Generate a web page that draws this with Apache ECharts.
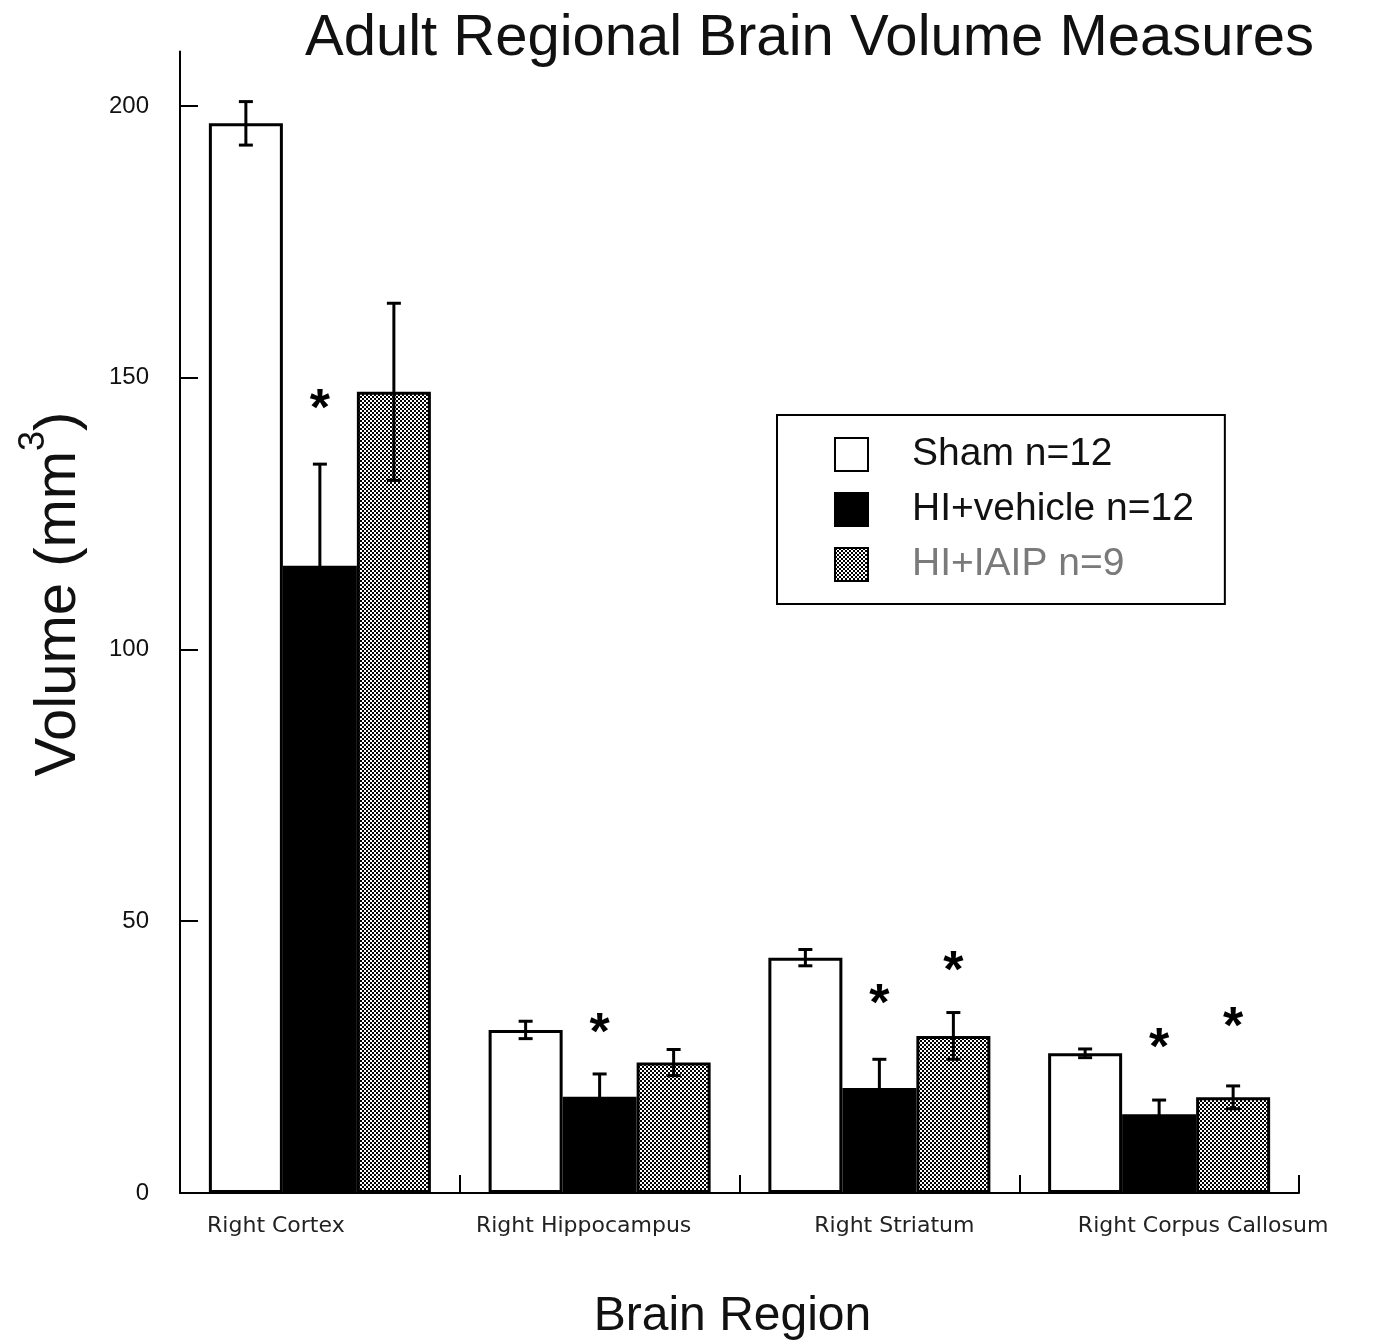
<!DOCTYPE html>
<html>
<head>
<meta charset="utf-8">
<script src="https://cdn.jsdelivr.net/npm/echarts@6/dist/echarts.min.js"></script>
<style>
html,body{margin:0;padding:0;background:#fff;}
#chart{width:1374px;height:1344px;}
</style>
</head>
<body>
<div id="chart"></div>
<script>
// ---------- data ----------
const categories = ['Right Cortex', 'Right Hippocampus', 'Right Striatum', 'Right Corpus Callosum'];
const seriesNames = ['Sham n=12', 'HI+vehicle n=12', 'HI+IAIP n=9'];
const shamMean = [196.8, 30.0, 43.3, 25.7];
const shamErr  = [4.0, 1.6, 1.5, 0.8];
const vehMean  = [115.4, 17.7, 19.3, 14.5];
const vehErr   = [18.7, 4.2, 5.3, 2.6];
const iaipMean = [147.4, 24.0, 28.9, 17.6];
const iaipErr  = [16.3, 2.4, 4.3, 2.1];
// level (in mm^3) at which the significance asterisk sits; null = none
const vehSigLevel  = [145.7, 30.9, 36.4, 28.2];
const iaipSigLevel = [null, null, 42.4, 32.1];
const yTicks = [0, 50, 100, 150, 200];

// ---------- styling ----------
const FONT = 'Liberation Sans';
const BAR_W = 74;
const labelShift = [-44, -16, 15, 44];

const pc = document.createElement('canvas');
pc.width = 4; pc.height = 4;
const ctx = pc.getContext('2d');
ctx.fillStyle = '#fff'; ctx.fillRect(0, 0, 4, 4);
ctx.fillStyle = '#000'; ctx.fillRect(0, 0, 2, 2); ctx.fillRect(2, 2, 2, 2);
const checker = { image: pc, repeat: 'repeat' };

const groups = [
  { name: seriesNames[0], mean: shamMean, err: shamErr, fill: '#fff' },
  { name: seriesNames[1], mean: vehMean, err: vehErr, fill: '#000' },
  { name: seriesNames[2], mean: iaipMean, err: iaipErr, fill: checker }
];

const series = [];
groups.forEach(g => {
  series.push({
    name: g.name, type: 'bar', barWidth: BAR_W, barGap: '0%',
    data: g.mean,
    itemStyle: { color: g.fill, borderColor: '#000', borderWidth: 3 },
    emphasis: { disabled: true }, z: 2
  });
});

groups.forEach((g, gi) => {
  const off = (gi - 1) * BAR_W;
  series.push({
    type: 'custom', name: g.name + ' err', z: 4, silent: true,
    data: g.mean.map((m, i) => [i, m, g.err[i]]),
    encode: { x: 0, y: 1 },
    renderItem: (params, api) => {
      const c = api.value(0), m = api.value(1), e = api.value(2);
      const t = api.coord([c, m + e]);
      const b = api.coord([c, m - e]);
      const x = t[0] + off;
      const st = { stroke: '#000', lineWidth: 3 };
      return { type: 'group', children: [
        { type: 'line', shape: { x1: x, y1: t[1], x2: x, y2: b[1] }, style: st },
        { type: 'line', shape: { x1: x - 7, y1: t[1], x2: x + 7, y2: t[1] }, style: st },
        { type: 'line', shape: { x1: x - 7, y1: b[1], x2: x + 7, y2: b[1] }, style: st }
      ]};
    }
  });
});

[[vehSigLevel, 0], [iaipSigLevel, 1]].forEach(([lev, k]) => {
  series.push({
    type: 'custom', z: 5, silent: true,
    data: lev.map((v, i) => [i, v]).filter(d => d[1] !== null),
    encode: { x: 0, y: 1 },
    renderItem: (params, api) => {
      const p = api.coord([api.value(0), api.value(1)]);
      return { type: 'text', x: p[0] + k * BAR_W, y: p[1] + 10,
        style: { text: '*', fontSize: 52, fontWeight: 'bold', fontFamily: FONT, fill: '#000',
                 align: 'center', verticalAlign: 'middle' } };
    }
  });
});

const option = {
  backgroundColor: '#fff',
  animation: false,
  title: {
    text: 'Adult Regional Brain Volume Measures',
    left: 300, top: 5,
    textStyle: { fontSize: 58, fontWeight: 'normal', fontFamily: FONT, color: '#111' }
  },
  grid: { left: 180, right: 75, top: 51.6, bottom: 151, containLabel: false, outerBoundsMode: 'none' },
  legend: {
    orient: 'vertical', left: 777, top: 415,
    padding: [20, 31, 20, 57],
    icon: 'rect',
    itemWidth: 33, itemHeight: 33, itemGap: 16,
    borderColor: '#000', borderWidth: 2,
    selectedMode: false,
    itemStyle: { borderWidth: 2, borderColor: '#000' },
    data: [
      { name: seriesNames[0] },
      { name: seriesNames[1] },
      { name: seriesNames[2], textStyle: { color: '#7a7a7a' } }
    ],
    textStyle: { fontSize: 39, fontFamily: FONT, color: '#111', padding: [0, 0, 0, 39] }
  },
  xAxis: {
    type: 'category',
    data: categories.map((c, i) => ({
      value: c,
      textStyle: { padding: labelShift[i] < 0 ? [0, -2 * labelShift[i], 0, 0] : [0, 0, 0, 2 * labelShift[i]] }
    })),
    axisLine: { lineStyle: { color: '#000', width: 2 } },
    axisTick: { show: true, inside: true, length: 18, interval: 0, lineStyle: { color: '#000', width: 2 } },
    axisLabel: { interval: 0, hideOverlap: false, margin: 22, fontSize: 22, fontFamily: 'DejaVu Sans', color: '#222' },
    name: 'Brain Region', nameLocation: 'middle', nameGap: 100,
    nameTextStyle: { fontSize: 48, fontFamily: FONT, color: '#111', padding: [0, 14, 0, 0] }
  },
  yAxis: {
    type: 'value', min: 0, max: 210, interval: 50,
    axisLine: { show: true, lineStyle: { color: '#000', width: 2 } },
    axisTick: { show: true, inside: true, length: 18, lineStyle: { color: '#000', width: 2 }, customValues: yTicks },
    axisLabel: { customValues: yTicks, margin: 31, fontSize: 24, fontFamily: FONT, color: '#111' },
    splitLine: { show: false }
  },
  graphic: [{
    type: 'text', x: 52, y: 594, rotation: Math.PI / 2,
    style: {
      text: '{b|Volume (mm}{s|3}{b|)}',
      align: 'center', verticalAlign: 'middle',
      rich: {
        b: { fontSize: 58, fontFamily: FONT, fill: '#111', color: '#111', lineHeight: 72, verticalAlign: 'bottom' },
        s: { fontSize: 36, fontFamily: FONT, fill: '#111', color: '#111', lineHeight: 72, verticalAlign: 'top' }
      }
    }
  }],
  series: series
};

const chart = echarts.init(document.getElementById('chart'), null, { renderer: 'canvas' });
chart.setOption(option);
</script>
</body>
</html>
